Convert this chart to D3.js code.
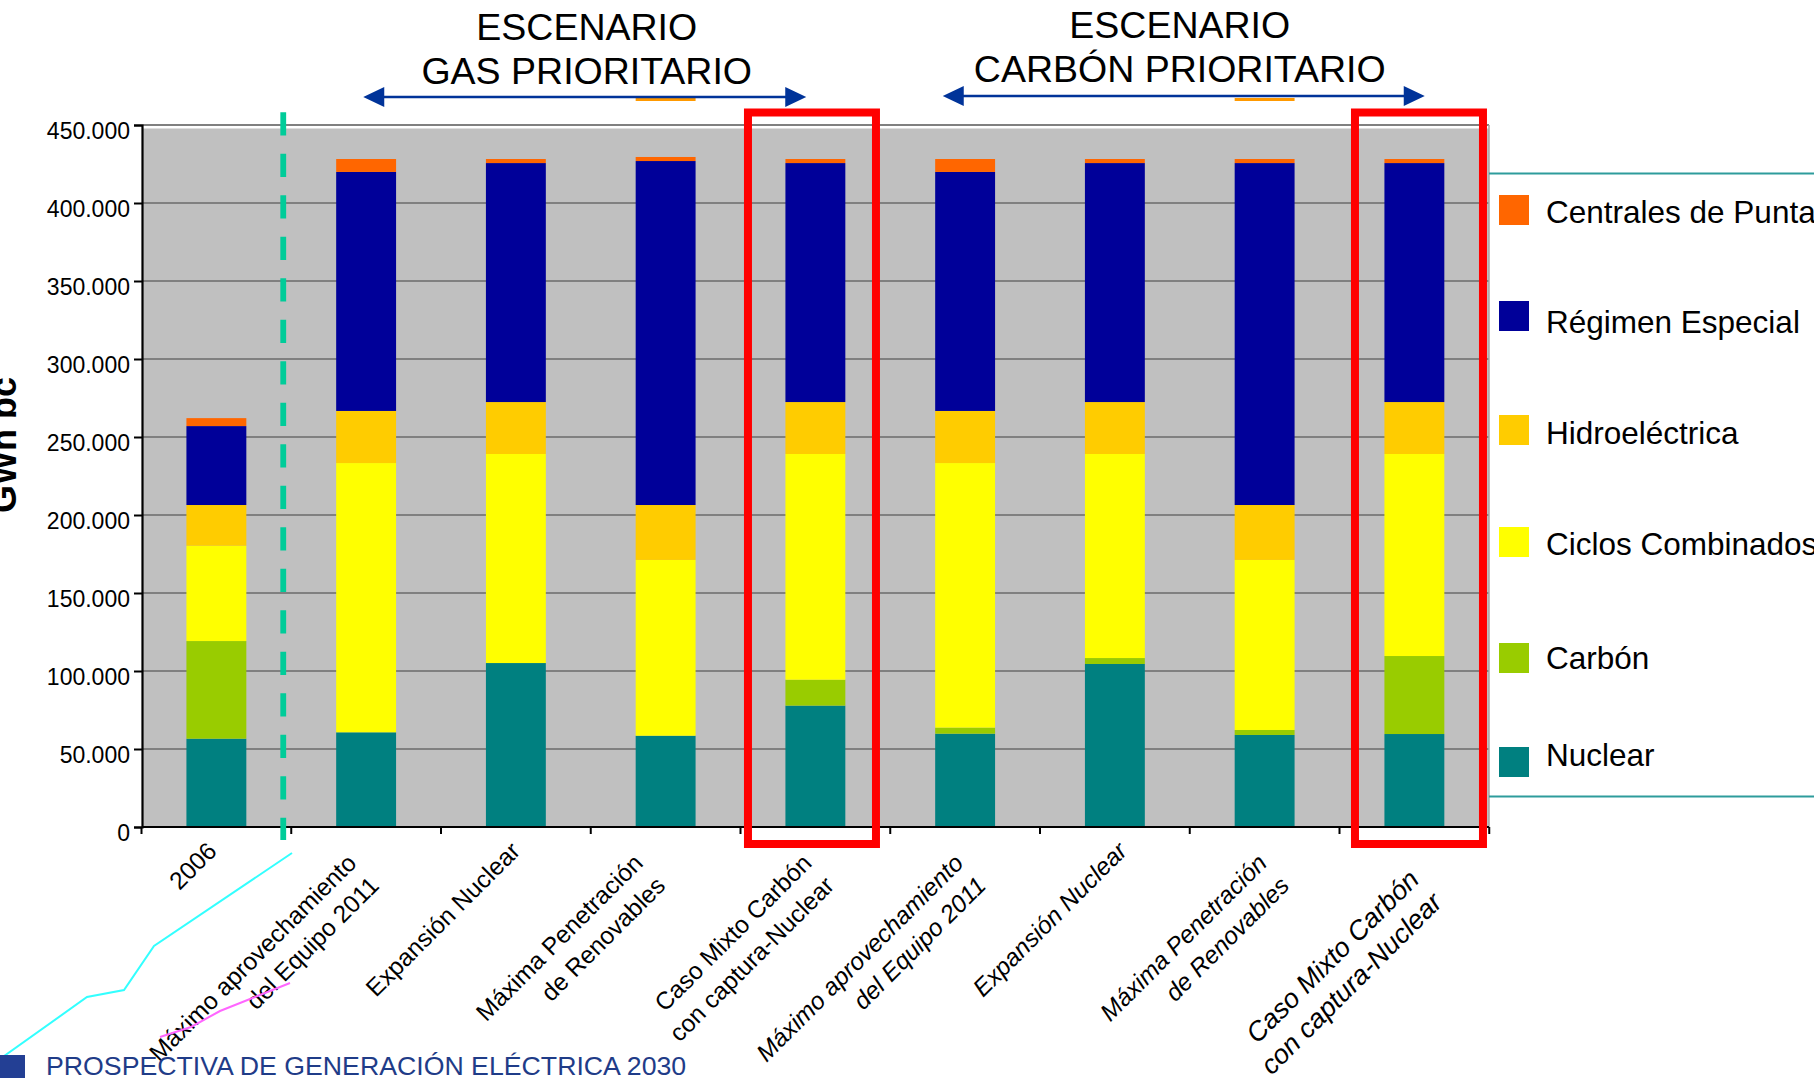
<!DOCTYPE html>
<html>
<head>
<meta charset="utf-8">
<script src="https://cdn.jsdelivr.net/npm/d3@7"></script>
<style>
  body { margin: 0; background: #fff; }
  svg { display: block; font-family: "Liberation Sans", Arial, sans-serif; }
</style>
</head>
<body>
<svg id="chart" width="1814" height="1078"></svg>
<script>
// ---- data (GWh bc) ----
const categoryLabels = [
  ["2006"],
  ["Máximo aprovechamiento", "del Equipo 2011"],
  ["Expansión Nuclear"],
  ["Máxima Penetración", "de Renovables"],
  ["Caso Mixto Carbón", "con captura-Nuclear"],
  ["Máximo aprovechamiento", "del Equipo 2011"],
  ["Expansión Nuclear"],
  ["Máxima Penetración", "de Renovables"],
  ["Caso Mixto Carbón", "con captura-Nuclear"]
];
const seriesNames = ["Nuclear", "Carbón", "Ciclos Combinados", "Hidroeléctrica", "Régimen Especial", "Centrales de Punta"];
const nuclear  = [56600, 60700, 105100, 58500, 77800, 59800, 104500, 59000, 59600];
const carbon   = [62600, 0, 0, 0, 16600, 3900, 3800, 3200, 50000];
const ciclos   = [61100, 172600, 134000, 112700, 144700, 169600, 130800, 109000, 129500];
const hidro    = [26100, 33400, 33300, 35200, 33300, 33400, 33300, 35200, 33300];
const regimen  = [50600, 153200, 153200, 220500, 153200, 153200, 153200, 219200, 153200];
const puntas   = [5100, 8300, 2600, 2600, 2600, 8300, 2600, 2600, 2600];
const yTicks   = [0, 50000, 100000, 150000, 200000, 250000, 300000, 350000, 400000, 450000];
const scenarioTitles = [["ESCENARIO", "GAS PRIORITARIO"], ["ESCENARIO", "CARBÓN PRIORITARIO"]];
const scenarioRanges = [[1, 4], [5, 8]];
const highlightedCases = [4, 8];
const renewablesCases = [3, 7];
const yTitle = "GWh bc";
const footerText = "PROSPECTIVA DE GENERACIÓN ELÉCTRICA 2030";

// ---- styling ----
const colors = {
  "Nuclear": "#008080",
  "Carbón": "#99CC00",
  "Ciclos Combinados": "#FFFF00",
  "Hidroeléctrica": "#FFCC00",
  "Régimen Especial": "#000099",
  "Centrales de Punta": "#FF6600"
};

const svg = d3.select("#chart");
svg.append("rect").attr("width", 1814).attr("height", 1078).attr("fill", "#fff");

const plot = { left: 142, right: 1489, top: 125, bottom: 827 };

const rows = categoryLabels.map((_, i) => ({
  idx: i,
  "Nuclear": nuclear[i],
  "Carbón": carbon[i],
  "Ciclos Combinados": ciclos[i],
  "Hidroeléctrica": hidro[i],
  "Régimen Especial": regimen[i],
  "Centrales de Punta": puntas[i]
}));

const x = d3.scaleBand()
  .domain(d3.range(categoryLabels.length))
  .range([141.5, 1489.25])
  .paddingInner(0.6)
  .paddingOuter(0.3);
const y = d3.scaleLinear().domain([0, 450000]).range([plot.bottom, plot.top]);
const cx = i => x(i) + x.bandwidth() / 2;
const slotEdge = i => x.range()[0] + i * x.step();
// annotations (labels, boxes) sit on a slightly wider pitch than the bars
const annoX = i => cx(i) + 2 * (i - 5.7);

const esLocale = d3.formatLocale({ decimal: ",", thousands: ".", grouping: [3], currency: ["", " €"] });
const fmt = esLocale.format(",d");

// plot background + grid
svg.append("rect")
  .attr("x", plot.left).attr("y", plot.top + 3.5)
  .attr("width", plot.right - plot.left).attr("height", plot.bottom - plot.top - 3.5)
  .attr("fill", "#C0C0C0");
svg.append("g").selectAll("line").data(yTicks.filter(v => v > 0)).join("line")
  .attr("x1", plot.left).attr("x2", plot.right)
  .attr("y1", d => y(d)).attr("y2", d => y(d))
  .attr("stroke", "#808080").attr("stroke-width", 2);
svg.append("line")
  .attr("x1", plot.right).attr("x2", plot.right)
  .attr("y1", plot.top).attr("y2", plot.bottom)
  .attr("stroke", "#A8A8A8").attr("stroke-width", 1.5);

// stacked bars
const stacked = d3.stack().keys(seriesNames)(rows);
svg.append("g").selectAll("g").data(stacked).join("g")
  .attr("fill", d => colors[d.key])
  .selectAll("rect").data(d => d).join("rect")
  .attr("x", d => x(d.data.idx))
  .attr("width", x.bandwidth())
  .attr("y", d => y(d[1]))
  .attr("height", d => Math.max(0, y(d[0]) - y(d[1])));

// y axis
const yAxis = svg.append("g")
  .attr("transform", `translate(${plot.left},0)`)
  .call(d3.axisLeft(y).tickValues(yTicks).tickFormat(fmt).tickSize(8).tickPadding(4));
yAxis.select(".domain").attr("stroke", "#000").attr("stroke-width", 2.2);
yAxis.selectAll(".tick line").attr("stroke", "#000").attr("stroke-width", 2);
yAxis.selectAll(".tick text")
  .attr("font-size", 23).attr("fill", "#000").attr("dy", "0.6em")
  .attr("font-family", "'Liberation Sans', Arial, sans-serif");

// x axis baseline with ticks on slot edges
const xAxis = svg.append("g");
xAxis.append("line")
  .attr("x1", plot.left).attr("x2", plot.right)
  .attr("y1", plot.bottom).attr("y2", plot.bottom)
  .attr("stroke", "#000").attr("stroke-width", 2.2);
xAxis.selectAll("line.tick").data(d3.range(categoryLabels.length + 1)).join("line")
  .attr("class", "tick")
  .attr("x1", d => slotEdge(d)).attr("x2", d => slotEdge(d))
  .attr("y1", plot.bottom).attr("y2", plot.bottom + 7)
  .attr("stroke", "#000").attr("stroke-width", 2);

// rotated category labels
const lastIdx = categoryLabels.length - 1;
const secondGroup = i => i >= scenarioRanges[1][0];
const labelSize = i => (i === lastIdx ? 27 : 24.5);
const labelNudge = i => (i === 3 ? -17 : 0);
const labels = svg.append("g").selectAll("g").data(categoryLabels).join("g")
  .attr("transform", (d, i) => {
    const extra = i === lastIdx ? 16 : 0;
    return `translate(${annoX(i) + 7 + labelNudge(i)},${846.5 + extra}) rotate(-45)`;
  });
labels.each(function (lines, i) {
  const t = d3.select(this).append("text")
    .attr("text-anchor", "end")
    .attr("font-size", labelSize(i))
    .attr("font-style", secondGroup(i) ? "italic" : "normal")
    .attr("fill", "#000");
  const pull = -17 * (lines.length - 1);
  const lead = i === lastIdx ? "1.2em" : "1.3em";
  lines.forEach((line, k) => {
    t.append("tspan").attr("x", pull).attr("dy", k === 0 ? "0.35em" : lead).text(line);
  });
});

// y title
svg.append("text")
  .attr("transform", "translate(16,445) rotate(-90)")
  .attr("text-anchor", "middle")
  .attr("font-weight", "bold").attr("font-size", 36).attr("fill", "#000")
  .text(yTitle);

// divider between historical year and scenarios
svg.append("line")
  .attr("x1", slotEdge(1) - 8).attr("x2", slotEdge(1) - 8)
  .attr("y1", 112.3).attr("y2", 840)
  .attr("stroke", "#00CC99").attr("stroke-width", 5.8)
  .attr("stroke-dasharray", "23.3 18.2");

// short orange marks above the renewables cases
svg.append("g").selectAll("line").data(renewablesCases).join("line")
  .attr("x1", d => x(d)).attr("x2", d => x(d) + x.bandwidth())
  .attr("y1", 99.5).attr("y2", 99.5)
  .attr("stroke", "#FF9900").attr("stroke-width", 3);

// scenario titles and span arrows
const scenarioLayout = [
  { titleDx: -4, arrowDx: -6, half: 221.5, base: 40, arrowY: 97 },
  { titleDx: -10, arrowDx: -6, half: 241, base: 38, arrowY: 96 }
];
scenarioTitles.forEach((lines, s) => {
  const [a, b] = scenarioRanges[s];
  const mid = (x(a) + x(b) + x.bandwidth()) / 2;
  const L = scenarioLayout[s];
  const t = svg.append("text")
    .attr("text-anchor", "middle").attr("font-size", 37.5).attr("fill", "#000");
  lines.forEach((line, k) => {
    t.append("tspan").attr("x", mid + L.titleDx).attr("y", L.base + k * 44).text(line);
  });
  const ax = mid + L.arrowDx, x1 = ax - L.half, x2 = ax + L.half, ay = L.arrowY;
  svg.append("line")
    .attr("x1", x1 + 18).attr("x2", x2 - 18).attr("y1", ay).attr("y2", ay)
    .attr("stroke", "#003399").attr("stroke-width", 2.5);
  svg.append("path")
    .attr("d", `M${x1},${ay} L${x1 + 21},${ay - 10} L${x1 + 21},${ay + 10} Z M${x2},${ay} L${x2 - 21},${ay - 10} L${x2 - 21},${ay + 10} Z`)
    .attr("fill", "#003399");
});

// highlight boxes around the mixed coal/capture cases
svg.append("g").selectAll("rect").data(highlightedCases).join("rect")
  .attr("x", d => annoX(d) - 64).attr("width", 128)
  .attr("y", 112.5).attr("height", 844 - 112.5)
  .attr("fill", "none").attr("stroke", "#FF0000").attr("stroke-width", 8);

// legend, top row = top of the stack
const legendOrder = seriesNames.slice().reverse();
const legendRowY = [210, 316, 430, 542, 658, 762];
const legendTextDy = [2, 6, 3, 2, 0, -7];
const legend = svg.append("g");
[173.5, 796.5].forEach(ly => legend.append("line")
  .attr("x1", 1489).attr("x2", 1814).attr("y1", ly).attr("y2", ly)
  .attr("stroke", "#2E9C9C").attr("stroke-width", 2));
const items = legend.selectAll("g").data(legendOrder).join("g")
  .attr("transform", (d, k) => `translate(1499,${legendRowY[k]})`);
items.append("rect").attr("x", 0).attr("y", -15).attr("width", 30).attr("height", 30)
  .attr("fill", d => colors[d]);
items.append("text").attr("x", 47).attr("y", (d, k) => legendTextDy[k]).attr("dy", "0.35em")
  .attr("font-size", 31.5).attr("fill", "#000").text(d => d);

// footer decoration
svg.append("path")
  .attr("d", "M0,1059 L87,997 L124,990 L154,946 L292,853")
  .attr("fill", "none").attr("stroke", "#33FFFF").attr("stroke-width", 2);
svg.append("path")
  .attr("d", "M160,1037 L191,1027 L220,1011 L290,983")
  .attr("fill", "none").attr("stroke", "#FF66FF").attr("stroke-width", 2);
svg.append("rect").attr("x", 0).attr("y", 1055).attr("width", 25).attr("height", 23).attr("fill", "#233F94");
svg.append("text").attr("x", 46).attr("y", 1075)
  .attr("font-size", 26.7).attr("fill", "#1F3C88").text(footerText);
</script>
</body>
</html>
